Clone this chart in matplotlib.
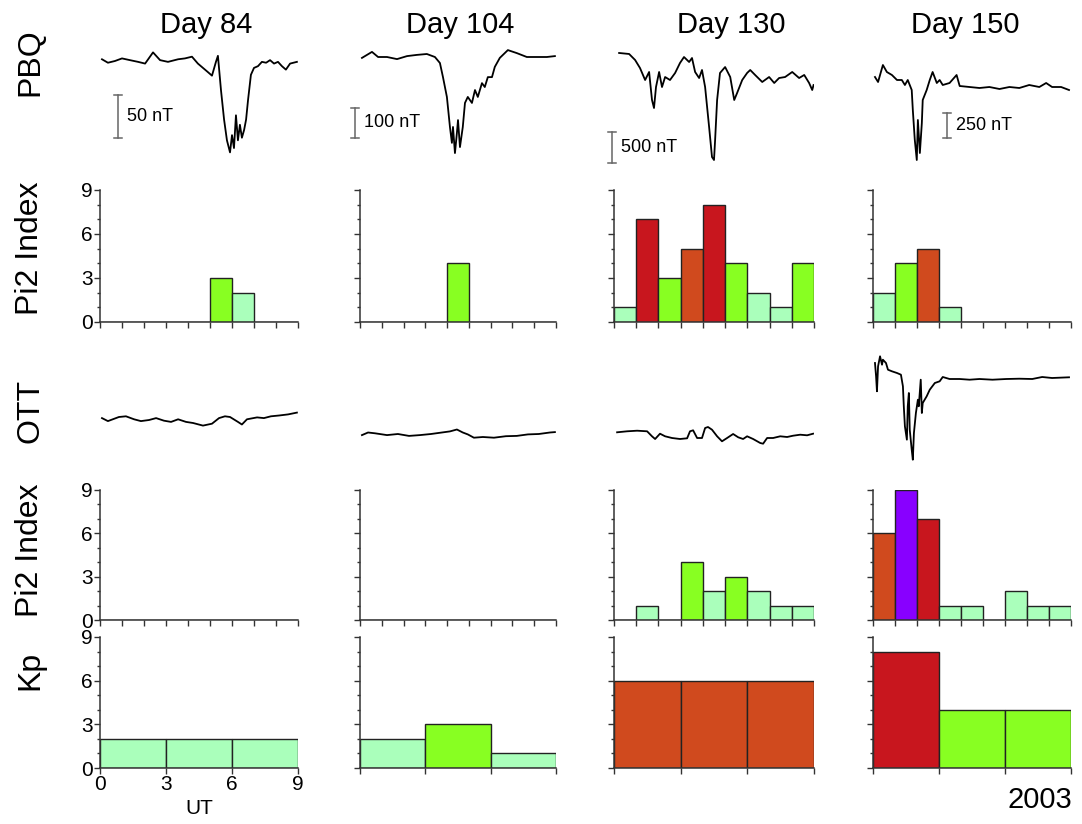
import numpy as np
import matplotlib
matplotlib.use("Agg")
import matplotlib.pyplot as plt
from matplotlib.ticker import MultipleLocator

plt.rcParams['font.family'] = ['Liberation Sans', 'DejaVu Sans']

W, H = 1082, 824

days = ["Day 84", "Day 104", "Day 130", "Day 150"]

# Pi2 index, one value per hour 0-9 UT
pi2_pbq = [
    [0, 0, 0, 0, 0, 3, 2, 0, 0],
    [0, 0, 0, 0, 4, 0, 0, 0, 0],
    [1, 7, 3, 5, 8, 4, 2, 1, 4],
    [2, 4, 5, 1, 0, 0, 0, 0, 0],
]
pi2_ott = [
    [0, 0, 0, 0, 0, 0, 0, 0, 0],
    [0, 0, 0, 0, 0, 0, 0, 0, 0],
    [0, 1, 0, 4, 2, 3, 2, 1, 1],
    [6, 9, 7, 1, 1, 0, 2, 1, 1],
]
# Kp, three 3-hour values
kp = [
    [2, 2, 2],
    [2, 3, 1],
    [6, 6, 6],
    [8, 4, 4],
]

# PBQ magnetograms (UT hours, nT relative to quiet level)
pbq_t84 = [0.09, 0.36, 0.68, 1.0, 1.36, 1.73, 2.05, 2.41, 2.73, 3.09, 3.55, 3.86, 4.18, 4.45, 4.68,
           4.91, 5.09, 5.27, 5.36, 5.5, 5.64, 5.77, 5.91, 6.0, 6.09, 6.18, 6.27, 6.36, 6.45, 6.55,
           6.64, 6.73, 6.86, 7.0, 7.18, 7.36, 7.55, 7.73, 7.91, 8.09, 8.27, 8.45, 8.64, 8.95]
pbq_v84 = [2, -2, 0, 3, 1, -1, -3, 10, 1, -1, 2, 3, 5, -3, -8,
           -13, -17, -1, 6, -34, -68, -92, -106, -86, -101, -63, -92, -74, -89, -80,
           -68, -45, -16, -8, -6, -1, -2, 1, -3, -1, -6, -10, -3, -1]
pbq_t104 = [0.09, 0.55, 0.83, 1.24, 1.70, 2.16, 2.61, 3.07, 3.44, 3.67, 3.81, 3.99, 4.13, 4.22, 4.27,
            4.36, 4.45, 4.50, 4.59, 4.72, 4.82, 4.95, 5.14, 5.28, 5.41, 5.60, 5.73, 5.87, 6.06, 6.19,
            6.42, 6.79, 7.20, 7.66, 8.12, 8.58, 8.95]
pbq_v104 = [-3, 17, 0, 0, -7, 3, 7, 10, 0, -20, -67, -133, -233, -286, -233,
            -320, -253, -210, -300, -233, -153, -133, -153, -110, -133, -87, -100, -67, -67, -33,
            -3, 23, 13, 0, 0, 0, 3]
pbq_t130 = [0.23, 0.68, 0.95, 1.17, 1.40, 1.58, 1.71, 1.80, 1.89, 2.03, 2.16, 2.30, 2.52, 2.75, 2.97,
            3.15, 3.38, 3.51, 3.65, 3.83, 3.96, 4.10, 4.28, 4.41, 4.50, 4.55, 4.64, 4.77, 5.0, 5.23,
            5.41, 5.54, 5.77, 5.99, 6.13, 6.35, 6.67, 6.98, 7.21, 7.43, 7.70, 8.02, 8.33, 8.56, 8.78,
            8.92, 8.98]
pbq_v130 = [435, 419, 322, 193, 0, 129, -322, -451, -113, 129, -113, 48, 0, 113, 274,
            370, 290, 354, 129, 32, 161, -113, -757, -1240, -1288, -966, -322, 113, 209, 48,
            -322, -209, 0, 113, 161, 81, -32, 48, -48, 32, 48, 129, 32, 81, -48,
            -161, -81]
pbq_t150 = [0.09, 0.23, 0.45, 0.63, 0.86, 1.09, 1.31, 1.45, 1.58, 1.76, 1.81, 1.90, 1.99, 2.04, 2.13,
            2.22, 2.26, 2.44, 2.58, 2.71, 2.90, 3.03, 3.17, 3.48, 3.80, 3.94, 4.39, 4.84, 5.29, 5.75,
            6.20, 6.65, 7.10, 7.56, 7.87, 8.14, 8.55, 8.91]
pbq_v150 = [110, 60, 230, 160, 130, 80, 80, 30, 80, -20, -220, -520, -720, -320, -650,
            -350, -120, -20, 80, 160, 50, 80, 30, 50, 130, 20, 10, 0, 10, -10,
            10, 0, 30, 10, 50, 10, 10, -20]

# OTT magnetograms (no scale given, relative units)
ott_t84 = [0.09, 0.36, 0.86, 1.18, 1.55, 1.86, 2.23, 2.55, 2.91, 3.23, 3.55, 3.91, 4.23, 4.68,
           5.09, 5.41, 5.68, 5.91, 6.27, 6.45, 6.68, 7.14, 7.45, 7.77, 8.14, 8.55, 8.95]
ott_v84 = [1.9, -1.1, 3, 3.7, 0.7, -1.1, 0, 1.9, -0.7, -1.9, 0.7, -1.9, -3, -5.6,
           -3.7, 1.9, 3.7, 3, -1.9, -4.5, 0.7, 2.6, 1.9, 3.7, 4.5, 5.6, 7.4]
ott_t104 = [0.09, 0.37, 0.69, 1.24, 1.74, 2.25, 2.75, 3.26, 3.76, 4.13, 4.45, 4.72, 4.95, 5.23,
            5.64, 6.15, 6.70, 7.20, 7.71, 8.21, 8.72, 8.95]
ott_v104 = [-1.1, 1.5, 0.7, -1.1, 0, -1.9, -1.1, 0, 1.5, 2.6, 4.5, 1.5, -0.4, -3.7,
            -3, -3.7, -2.2, -1.9, -0.4, 0, 1.5, 1.9]
ott_t130 = [0.14, 0.59, 1.04, 1.49, 1.71, 1.85, 2.07, 2.30, 2.61, 2.97, 3.29, 3.42, 3.56, 3.74,
            3.96, 4.10, 4.23, 4.41, 4.64, 4.86, 5.09, 5.36, 5.59, 5.81, 5.99, 6.26, 6.58, 6.71,
            6.89, 7.16, 7.48, 7.79, 8.06, 8.38, 8.69, 8.96]
ott_v130 = [0.7, 1.7, 2.3, 1.7, -3.3, -6, -0.7, -3.3, -5, -6, -5.3, 1.7, 2.7, -5,
            -5, 5, 6, 3.3, -3.3, -8.3, -5, -1, -4.3, -6, -3.3, -6, -10, -10.7,
            -5, -5, -3.3, -4, -2.7, -1.7, -2.3, -0.7]
ott_t150 = [0.09, 0.14, 0.18, 0.23, 0.32, 0.41, 0.45, 0.59, 0.68, 0.86, 1.09, 1.27, 1.36, 1.40, 1.45,
            1.54, 1.58, 1.63, 1.67, 1.76, 1.81, 1.86, 1.95, 2.04, 2.08, 2.17, 2.22, 2.26, 2.44, 2.58,
            2.81, 3.03, 3.17, 3.48, 3.94, 4.39, 4.84, 5.43, 6.06, 6.65, 7.24, 7.69, 8.14, 8.91]
ott_v150 = [15, 1.7, -13.3, 11.7, 21.7, 13.3, 18.3, 15, 8.3, 6.7, 5, 3.3, -8.3, -28.3, -48.3,
            -61.7, -28.3, -15, -51.7, -71.7, -81.7, -55, -35, -21.7, -28.3, -1.7, -35, -25, -18.3, -11.7,
            -5, -3.3, 1, -1, -1, -1.7, -1, -1.7, -1, -0.7, -1, 1, 0, 0.7]

pbq_t = [pbq_t84, pbq_t104, pbq_t130, pbq_t150]
pbq_v = [pbq_v84, pbq_v104, pbq_v130, pbq_v150]
ott_t = [ott_t84, ott_t104, ott_t130, ott_t150]
ott_v = [ott_v84, ott_v104, ott_v130, ott_v150]

scale_nT = [50, 100, 500, 250]

# layout in pixels
cols = [(100, 298), (360, 556), (614, 814), (873, 1071)]
rows = {"pbq": (35, 170), "pi2a": (190, 322), "ott": (345, 470),
        "pi2b": (490, 620), "kp": (637, 768)}
pbq_px = [1.16, 3.33, 16.1, 10.0]     # nT per pixel
pbq_base = [61, 57, 80, 88]           # quiet level (px)
ott_base = [420, 434, 433, 378]
bar_x = [0.82, -0.23, -0.09, 3.35]    # scale bar position (UT)
bar_bottom = [138, 138, 163, 138]     # px

light, green, orange, red, purple = '#aaffbb', '#88ff22', '#d04a1e', '#c8161e', '#8800ff'


def colour(v):
    if v <= 2:
        return light
    if v <= 4:
        return green
    if v <= 6:
        return orange
    if v <= 8:
        return red
    return purple


fig = plt.figure(figsize=(W / 100, H / 100), dpi=100)


def add_ax(c, r):
    x0, x1 = cols[c]
    y0, y1 = rows[r]
    return fig.add_axes([x0 / W, 1 - y1 / H, (x1 - x0) / W, (y1 - y0) / H])


def bar_panel(ax, vals, width, show_y, xstep):
    x = np.arange(len(vals)) * width
    ax.bar(x, vals, width=width, align='edge', color=[colour(v) for v in vals],
           edgecolor='#222222', linewidth=1)
    ax.set_xlim(0, 9)
    ax.set_ylim(0, 9)
    for s in ['top', 'right']:
        ax.spines[s].set_visible(False)
    for s in ['left', 'bottom']:
        ax.spines[s].set_color('#333333')
        ax.spines[s].set_linewidth(1.1)
    ax.yaxis.set_major_locator(MultipleLocator(3))
    ax.yaxis.set_minor_locator(MultipleLocator(1))
    ax.xaxis.set_major_locator(MultipleLocator(xstep))
    ax.tick_params(which='major', direction='out', length=4, width=1, color='#333333',
                   labelsize=15, pad=1)
    ax.tick_params(axis='y', which='minor', direction='out', length=2.5, width=1, color='#333333')
    ax.tick_params(axis='x', labelbottom=False)
    if not show_y:
        ax.tick_params(axis='y', labelleft=False)


for i in range(4):
    # PBQ trace
    ax = add_ax(i, "pbq")
    y0, y1 = rows["pbq"]
    s, b = pbq_px[i], pbq_base[i]
    ax.plot(pbq_t[i], pbq_v[i], color='black', lw=1.3)
    ax.set_xlim(0, 9)
    ax.set_ylim(-(y1 - b) * s, (b - y0) * s)
    ax.axis('off')
    lo = -(bar_bottom[i] - b) * s
    hi = lo + scale_nT[i]
    xb = bar_x[i]
    ax.plot([xb, xb], [lo, hi], color='#666666', lw=1.1, clip_on=False)
    ax.plot([xb - 0.18, xb + 0.18], [lo, lo], color='#666666', lw=1.1, clip_on=False)
    ax.plot([xb - 0.18, xb + 0.18], [hi, hi], color='#666666', lw=1.1, clip_on=False)
    ax.text(xb + 0.42, (lo + hi) / 2, f"{scale_nT[i]} nT", fontsize=13, va='center', ha='left')

    # Pi2 at PBQ
    ax = add_ax(i, "pi2a")
    bar_panel(ax, pi2_pbq[i], 1, i == 0, 1)

    # OTT trace
    ax = add_ax(i, "ott")
    y0, y1 = rows["ott"]
    b = ott_base[i]
    ax.plot(ott_t[i], ott_v[i], color='black', lw=1.3)
    ax.set_xlim(0, 9)
    ax.set_ylim(b - y1, b - y0)
    ax.axis('off')

    # Pi2 at OTT
    ax = add_ax(i, "pi2b")
    bar_panel(ax, pi2_ott[i], 1, i == 0, 1)

    # Kp
    ax = add_ax(i, "kp")
    bar_panel(ax, kp[i], 3, i == 0, 3)
    if i == 0:
        ax.tick_params(axis='x', labelbottom=True)
        ax.set_xlabel("UT", fontsize=15, labelpad=4)

    fig.text(([206, 460, 731, 965][i]) / W, 1 - 25 / H, days[i], fontsize=21,
             ha='center', va='center')

for label, yc in [("PBQ", 62), ("Pi2 Index", 248), ("OTT", 411), ("Pi2 Index", 550), ("Kp", 670)]:
    fig.text(30 / W, 1 - yc / H, label, fontsize=23, rotation=90, ha='center', va='center')

fig.text(1072 / W, 1 - 800 / H, "2003", fontsize=21, ha='right', va='center')

fig.savefig("out.png", dpi=100)
